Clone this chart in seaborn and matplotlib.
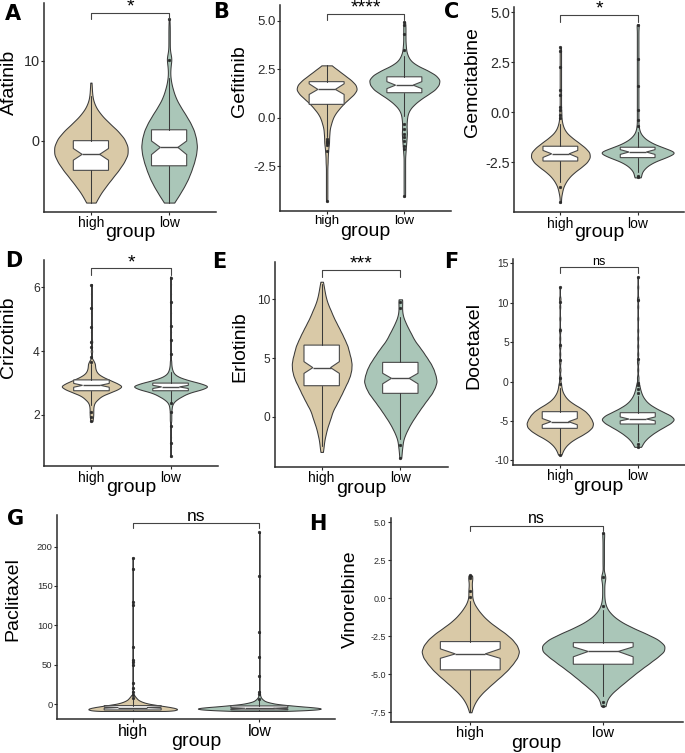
import numpy as np
import pandas as pd
import matplotlib
matplotlib.use("Agg")
import matplotlib.pyplot as plt
import seaborn as sns

# ---------------- data ----------------
GROUPS = ["high", "low"]
DRUGS = ["Afatinib", "Gefitinib", "Gemcitabine", "Crizotinib",
         "Erlotinib", "Docetaxel", "Paclitaxel", "Vinorelbine"]
LETTERS = ["A", "B", "C", "D", "E", "F", "G", "H"]
SIGNIF = ["*", "****", "*", "*", "***", "ns", "ns", "ns"]

# Each group's distribution as a frequency table (value grid + counts);
# box statistics: [q1, median, q3, whisker_low, whisker_high, notch_low, notch_high]

A_values = [-7.7, -6.7, -5.7, -4.7, -3.7, -2.7, -1.7, -0.7, 0.3, 1.3, 2.3, 3.3,
            4.3, 5.3, 6.3, 7.3, 8.3, 9.3, 10.3, 11.3, 12.3, 13.3, 14.3, 15.3]
A_high_counts = [14, 26, 43, 61, 80, 96, 108, 108, 98, 78, 52, 29,
                 13, 5, 3, 2, 0, 0, 0, 0, 0, 0, 0, 0]
A_low_counts = [15, 30, 44, 56, 65, 73, 79, 82, 79, 73, 62, 48,
                33, 20, 12, 6, 3, 4, 8, 2, 2, 2, 2, 1]
A_high_box = [-3.67, -1.67, 0.04, -7.7, 5.6, -2.4, -0.94]
A_low_box = [-3.1, -0.8, 1.4, -7.7, 7.9, -1.7, 0.0]
A_high_fliers = []
A_low_fliers = [10.1, 15.3]

B_values = [-4.3, -4.05, -3.8, -3.55, -3.3, -3.05, -2.8, -2.55, -2.3, -2.05,
            -1.8, -1.55, -1.3, -1.05, -0.8, -0.55, -0.3, -0.05, 0.2, 0.45,
            0.7, 0.95, 1.2, 1.45, 1.7, 1.95, 2.2, 2.45, 2.7, 2.95,
            3.2, 3.45, 3.7, 3.95, 4.2, 4.45, 4.7, 4.95]
B_high_counts = [2, 2, 2, 2, 2, 2, 2, 2, 3, 3,
                 4, 5, 7, 7, 8, 9, 13, 17, 24, 35,
                 47, 62, 78, 88, 84, 70, 51, 33, 14, 0,
                 0, 0, 0, 0, 0, 0, 0, 0]
B_low_counts = [0, 2, 2, 2, 2, 2, 2, 2, 2, 2,
                3, 4, 5, 6, 7, 6, 6, 7, 9, 15,
                27, 43, 63, 83, 93, 96, 85, 62, 33, 16,
                9, 5, 4, 3, 3, 3, 3, 2]
B_high_box = [0.69, 1.46, 1.86, -1.0, 2.7, 1.2, 1.75]
B_low_box = [1.29, 1.68, 2.11, 0.1, 3.2, 1.5, 1.86]
B_high_fliers = [-1.1, -1.2, -1.25, -1.3, -1.4, -1.7, -4.3]
B_low_fliers = [3.5, 4.3, 4.8, 4.95, -0.3, -0.6, -0.85, -1.0, -1.2, -1.45, -1.6, -4.05]

C_values = [-4.5, -4.25, -4.0, -3.75, -3.5, -3.25, -3.0, -2.75, -2.5, -2.25,
            -2.0, -1.75, -1.5, -1.25, -1.0, -0.75, -0.5, -0.25, 0.0, 0.25,
            0.5, 0.75, 1.0, 1.25, 1.5, 1.75, 2.0, 2.25, 2.5, 2.75,
            3.0, 3.25, 3.5, 3.75, 4.0, 4.25, 4.4]
C_high_counts = [2, 2, 5, 8, 15, 25, 40, 60, 78, 87,
                 86, 72, 53, 33, 17, 9, 5, 3, 3, 2,
                 2, 2, 2, 2, 2, 2, 2, 2, 2, 2,
                 2, 2, 0, 0, 0, 0, 0]
C_low_counts = [0, 0, 0, 0, 0, 9, 10, 20, 38, 72,
                104, 64, 33, 15, 6, 3, 2, 2, 2, 2,
                2, 2, 2, 2, 2, 2, 2, 2, 2, 2,
                2, 2, 2, 2, 2, 2, 2]
C_high_box = [-2.43, -2.07, -1.69, -3.5, -0.6, -2.25, -1.9]
C_low_box = [-2.26, -1.98, -1.74, -3.0, -0.96, -2.1, -1.86]
C_high_fliers = [-0.3, -0.13, 0.11, 0.28, 0.85, 1.1, 2.25, 3.07, 3.25, -3.74, -4.48]
C_low_fliers = [-0.7, -0.38, 0.11, 1.3, 2.66, 4.38, -3.16, -3.25]

D_values = [0.7, 1.0, 1.3, 1.6, 1.8, 1.9, 2.0, 2.1, 2.2, 2.3, 2.4, 2.5, 2.6,
            2.7, 2.8, 2.9, 3.0, 3.1, 3.2, 3.3, 3.4, 3.5, 3.6, 3.7, 4.0, 4.3,
            4.6, 4.9, 5.2, 5.5, 5.8, 6.1, 6.34]
D_high_counts = [0, 0, 0, 0, 3, 4, 5, 5, 5, 6, 9, 18, 28,
                 50, 72, 87, 70, 50, 30, 17, 12, 10, 10, 6, 3, 3,
                 2, 2, 2, 2, 2, 2, 0]
D_low_counts = [2, 2, 2, 2, 2, 2, 2, 2, 3, 4, 8, 18, 33,
                50, 85, 107, 80, 45, 20, 9, 5, 3, 2, 2, 2, 2,
                2, 2, 2, 2, 2, 2, 2]
D_high_box = [2.76, 2.93, 3.10, 2.3, 3.6, 2.87, 2.99]
D_low_box = [2.76, 2.88, 3.0, 2.4, 3.36, 2.83, 2.93]
D_high_fliers = [3.67, 3.83, 4.14, 4.30, 4.77, 5.34, 6.07, 2.10, 1.95, 1.8]
D_low_fliers = [3.9, 4.35, 4.8, 5.55, 6.28, 2.37, 2.1, 1.64, 1.11, 0.70]

E_values = [-3.5, -3.0, -2.5, -2.0, -1.5, -1.0, -0.5, 0.0, 0.5, 1.0, 1.5,
            2.0, 2.5, 3.0, 3.5, 4.0, 4.5, 5.0, 5.5, 6.0, 6.5, 7.0, 7.5,
            8.0, 8.5, 9.0, 9.5, 10.0, 10.5, 11.0, 11.5]
E_high_counts = [0, 4, 6, 8, 12, 16, 22, 28, 33, 43, 52,
                 61, 69, 78, 85, 89, 90, 87, 82, 78, 70, 62, 53,
                 44, 35, 28, 20, 14, 10, 7, 4]
E_low_counts = [3, 4, 6, 8, 14, 22, 31, 42, 53, 65, 77,
                90, 98, 104, 100, 95, 87, 76, 65, 53, 40, 32, 23,
                15, 8, 5, 5, 6, 0, 0, 0]
E_high_box = [2.64, 4.18, 6.1, -2.5, 11.3, 3.69, 4.69]
E_low_box = [1.99, 3.27, 4.63, -1.9, 8.5, 2.8, 3.7]
E_high_fliers = []
E_low_fliers = [9.3, 9.8, -2.4, -3.5]

F_values = [-9.3, -8.8, -8.3, -7.8, -7.3, -6.8, -6.3, -5.8, -5.3, -4.8, -4.3,
            -3.8, -3.3, -2.8, -2.3, -1.8, -1.3, -0.8, -0.3, 0.5, 1.5, 2.5,
            3.5, 4.5, 5.5, 6.5, 8.0, 9.5, 10.5, 12.0, 13.3]
F_high_counts = [5, 9, 16, 27, 43, 65, 83, 95, 97, 92, 85,
                 75, 58, 38, 23, 14, 8, 5, 4, 3, 3, 3,
                 2, 3, 2, 3, 2, 2, 3, 2, 0]
F_low_counts = [0, 0, 10, 15, 24, 37, 53, 72, 92, 104, 92,
                68, 47, 30, 20, 13, 9, 6, 4, 3, 2, 3,
                2, 2, 2, 2, 2, 2, 3, 2, 2]
F_high_box = [-5.95, -5.1, -3.83, -9.1, -0.8, -5.5, -4.7]
F_low_box = [-5.4, -4.77, -3.96, -7.6, -1.8, -5.0, -4.5]
F_high_fliers = [-0.3, 0.4, 2.7, 4.6, 6.5, 10.1, 12.0, -9.3]
F_low_fliers = [-1.5, -1.0, -0.5, -0.2, 2.9, 10.3, 13.3, -8.0, -8.3]

G_values = [-8.5, -7.5, -6.5, -5.5, -4.5, -3.5, -2.5, -1.5, -0.5, 0.5, 1.5,
            2.5, 3.5, 4.5, 5.5, 6.5, 7.5, 8.5, 9.5, 10.5, 11.5,
            13, 16, 20, 27, 36, 50, 53, 56, 60, 73, 91, 126, 130, 163, 172, 186, 218]
G_high_counts = [110, 125, 132, 130, 122, 110, 95, 80, 65, 50, 40,
                 32, 26, 21, 17, 14, 12, 10, 8, 6, 5,
                 3, 3, 3, 3, 0, 3, 3, 3, 0, 3, 0, 3, 3, 0, 3, 3, 0]
G_low_counts = [80, 140, 175, 185, 175, 150, 120, 95, 70, 50, 38,
                28, 20, 15, 12, 9, 7, 5, 4, 3, 3,
                3, 3, 0, 0, 3, 0, 0, 0, 3, 0, 3, 0, 0, 3, 0, 0, 3]
G_high_box = [-7.2, -4.2, -1.7, -8.5, 6.5, -5.0, -3.4]
G_low_box = [-7.2, -5.1, -2.1, -8.5, 5.5, -5.9, -4.3]
G_high_fliers = [7.6, 12, 16, 20, 27, 50, 53, 56, 73, 126, 130, 172, 186]
G_low_fliers = [6.8, 13, 16, 36, 60, 91, 163, 218]

H_values = [-7.5, -7.1, -6.7, -6.3, -5.9, -5.5, -5.1, -4.7, -4.3, -3.9, -3.5,
            -3.1, -2.7, -2.3, -1.9, -1.5, -1.1, -0.7, -0.3, 0.1, 0.5, 0.9,
            1.3, 1.5, 2.1, 2.5, 2.9, 3.3, 3.7, 4.1, 4.3]
H_high_counts = [3, 9, 18, 32, 51, 71, 92, 111, 126, 139, 145,
                 138, 124, 103, 77, 53, 35, 21, 10, 5, 6, 4,
                 5, 4, 0, 0, 0, 0, 0, 0, 0]
H_low_counts = [0, 7, 10, 22, 42, 63, 84, 106, 130, 153, 175,
                177, 157, 120, 80, 47, 25, 11, 5, 3, 3, 3,
                5, 4, 2, 2, 2, 2, 2, 2, 2]
H_high_box = [-4.71, -3.66, -2.85, -7.5, -0.2, -3.95, -3.33]
H_low_box = [-4.34, -3.5, -2.92, -6.45, -0.8, -3.85, -3.2]
H_high_fliers = [0.1, 0.5, 1.3, 1.45, 1.5]
H_low_fliers = [-0.5, 1.4, 4.3, -6.8, -7.1]

A_yticks, A_yticklabels = [0, 10], ["0", "10"]
B_yticks, B_yticklabels = [-2.5, 0.0, 2.5, 5.0], ["-2.5", "0.0", "2.5", "5.0"]
C_yticks, C_yticklabels = [-2.5, 0.0, 2.5, 5.0], ["-2.5", "0.0", "2.5", "5.0"]
D_yticks, D_yticklabels = [2, 4, 6], ["2", "4", "6"]
E_yticks, E_yticklabels = [0, 5, 10], ["0", "5", "10"]
F_yticks, F_yticklabels = [-10, -5, 0, 5, 10, 15], ["-10", "-5", "0", "5", "10", "15"]
G_yticks, G_yticklabels = [0, 50, 100, 150, 200], ["0", "50", "100", "150", "200"]
H_yticks, H_yticklabels = [-7.5, -5.0, -2.5, 0.0, 2.5, 5.0], ["-7.5", "-5.0", "-2.5", "0.0", "2.5", "5.0"]

# ---------------- styling / layout ----------------
sns.set_theme(style="ticks")
plt.rcParams["font.family"] = ["Liberation Sans", "DejaVu Sans"]
plt.rcParams["axes.unicode_minus"] = False

HIGH_COLOR = "#D9C9A7"
LOW_COLOR = "#AAC6B8"
EDGE = "#3A3A3A"
BOX_EDGE = "#4A4A4A"
INK = "#2B2B2B"

FIG_W, FIG_H = 685, 753
fig = plt.figure(figsize=(FIG_W / 100, FIG_H / 100), dpi=100)

panels = [
    dict(values=A_values, counts=(A_high_counts, A_low_counts), box=(A_high_box, A_low_box),
         fliers=(A_high_fliers, A_low_fliers), yticks=A_yticks, ylabels=A_yticklabels),
    dict(values=B_values, counts=(B_high_counts, B_low_counts), box=(B_high_box, B_low_box),
         fliers=(B_high_fliers, B_low_fliers), yticks=B_yticks, ylabels=B_yticklabels),
    dict(values=C_values, counts=(C_high_counts, C_low_counts), box=(C_high_box, C_low_box),
         fliers=(C_high_fliers, C_low_fliers), yticks=C_yticks, ylabels=C_yticklabels),
    dict(values=D_values, counts=(D_high_counts, D_low_counts), box=(D_high_box, D_low_box),
         fliers=(D_high_fliers, D_low_fliers), yticks=D_yticks, ylabels=D_yticklabels),
    dict(values=E_values, counts=(E_high_counts, E_low_counts), box=(E_high_box, E_low_box),
         fliers=(E_high_fliers, E_low_fliers), yticks=E_yticks, ylabels=E_yticklabels),
    dict(values=F_values, counts=(F_high_counts, F_low_counts), box=(F_high_box, F_low_box),
         fliers=(F_high_fliers, F_low_fliers), yticks=F_yticks, ylabels=F_yticklabels),
    dict(values=G_values, counts=(G_high_counts, G_low_counts), box=(G_high_box, G_low_box),
         fliers=(G_high_fliers, G_low_fliers), yticks=G_yticks, ylabels=G_yticklabels),
    dict(values=H_values, counts=(H_high_counts, H_low_counts), box=(H_high_box, H_low_box),
         fliers=(H_high_fliers, H_low_fliers), yticks=H_yticks, ylabels=H_yticklabels),
]

# layout / style settings per panel
AX_BOX = [(44, 3, 216, 211.7), (280, 5, 451, 210.7), (514, 6.7, 684, 212),
          (44, 260, 218, 466), (274.5, 262, 447.5, 466.7), (513, 259.3, 684.5, 464.7),
          (56.7, 515, 335.3, 719), (390.5, 518.3, 683, 721.7)]
YLIMS = [(-8.84, 17.25), (-4.79, 5.81), (-4.98, 5.29), (0.40, 6.86),
         (-4.26, 13.18), (-10.57, 15.53), (-18.7, 240), (-8.12, 5.26)]
BRACKET = [(16.0, 15.3), (5.35, 5.04), (4.88, 4.54), (6.60, 6.39),
           (12.5, 11.9), (14.5, 13.75), (229.7, 223.3), (4.78, 4.43)]
BW = [0.6, 0.15, 0.15, 0.06, 0.3, 0.3, 0.6, 0.24]
GRIDSIZE = [400, 400, 400, 600, 300, 600, 3000, 300]
VWIDTH = [(0.94, 0.71), (0.77, 0.90), (0.76, 0.93), (0.75, 0.92),
          (0.76, 0.92), (0.85, 0.92), (0.70, 0.97), (0.73, 0.92)]
YLAB_POS = [(-0.198, 0.62), (-0.234, 0.63), (-0.247, 0.633), (-0.204, 0.626),
            (-0.20, 0.585), (-0.227, 0.578), (-0.159, 0.588), (-0.138, 0.603)]
XLAB_Y = [-0.102, -0.102, -0.102, -0.105, -0.105, -0.105, -0.108, -0.105]
XT_FS = [10, 9.6, 10, 10, 10, 10, 11.4, 10.5]
YT_FS = [10.4, 9.5, 10.4, 8.7, 8.6, 7.4, 6.8, 6.5]
SIG_FS = [14, 14, 14, 14, 14, 9, 12.5, 11.4]
LETTER_POS = [(13, 20), (221, 18), (452, 18), (14, 267), (219, 268), (451, 268),
              (16, 525), (318, 530)]

for i, p in enumerate(panels):
    l, t, r, b = AX_BOX[i]
    ax = fig.add_axes([l / FIG_W, 1 - b / FIG_H, (r - l) / FIG_W, (b - t) / FIG_H])
    ax.set_facecolor("white")

    # violins (one seaborn call per group so each can carry its own width)
    for g, cnts, w, col in zip(GROUPS, p["counts"], VWIDTH[i], (HIGH_COLOR, LOW_COLOR)):
        sample = np.repeat(np.asarray(p["values"], dtype=float), cnts)
        df = pd.DataFrame({"group": g, "value": sample})
        sns.violinplot(data=df, x="group", y="value", order=GROUPS, color=col,
                       saturation=1, width=w, density_norm="width", cut=0,
                       inner=None, bw_method=BW[i] / sample.std(ddof=1),
                       gridsize=GRIDSIZE[i], linewidth=0.75, linecolor=EDGE, ax=ax)

    # notched boxes
    stats = []
    for bx, fl in zip(p["box"], p["fliers"]):
        q1, med, q3, lo, hi, cilo, cihi = bx
        stats.append(dict(q1=q1, med=med, q3=q3, whislo=lo, whishi=hi,
                          cilo=cilo, cihi=cihi, fliers=fl))
    ax.bxp(stats, positions=[0, 1], widths=0.45, shownotches=True, patch_artist=True,
           showcaps=False, manage_ticks=False, zorder=3,
           boxprops=dict(facecolor="white", edgecolor=BOX_EDGE, linewidth=0.8),
           medianprops=dict(color=BOX_EDGE, linewidth=1.0),
           whiskerprops=dict(color=EDGE, linewidth=0.75),
           flierprops=dict(marker="o", markersize=2.0, markerfacecolor=INK,
                           markeredgecolor=INK, markeredgewidth=0.3))

    # significance bracket
    by, ty = BRACKET[i]
    ax.plot([0, 0, 1, 1], [ty, by, by, ty], color="#444444", lw=0.8, clip_on=False, zorder=4)
    lbl = SIGNIF[i]
    if lbl == "ns":
        ax.annotate(lbl, xy=(0.5, by), xytext=(0, 1.8), textcoords="offset points",
                    ha="center", va="baseline", fontsize=SIG_FS[i], color="black",
                    annotation_clip=False)
    else:
        ax.annotate(lbl, xy=(0.5, by), xytext=(0, 0.8), textcoords="offset points",
                    ha="center", va="baseline", fontsize=SIG_FS[i], color="black",
                    annotation_clip=False)

    # axes
    ax.set_xlim(-0.6, 1.6)
    ax.set_ylim(*YLIMS[i])
    ax.set_xticks([0, 1])
    ax.set_xticklabels(GROUPS)
    ax.set_yticks(p["yticks"])
    ax.set_yticklabels(p["ylabels"])
    ax.tick_params(axis="x", labelsize=XT_FS[i], length=2.2, width=0.8, pad=1.2,
                   color=INK, labelcolor="black")
    ax.tick_params(axis="y", labelsize=YT_FS[i], length=2.2, width=0.8, pad=0.8,
                   color=INK, labelcolor=INK)
    sns.despine(ax=ax)
    for s in ("left", "bottom"):
        ax.spines[s].set_color(INK)
        ax.spines[s].set_linewidth(1.1)
    ax.grid(False)

    ax.set_ylabel(DRUGS[i], fontsize=14, color="black", va="center")
    ax.yaxis.set_label_coords(*YLAB_POS[i])
    ax.set_xlabel("group", fontsize=14, color="black", va="center")
    ax.xaxis.set_label_coords(0.5, XLAB_Y[i])

    lx, ly = LETTER_POS[i]
    fig.text(lx / FIG_W, 1 - ly / FIG_H, LETTERS[i], fontsize=15, fontweight="heavy",
             family="DejaVu Sans", ha="center", va="baseline", color="black")

fig.savefig("out.png", dpi=100, facecolor="white")
